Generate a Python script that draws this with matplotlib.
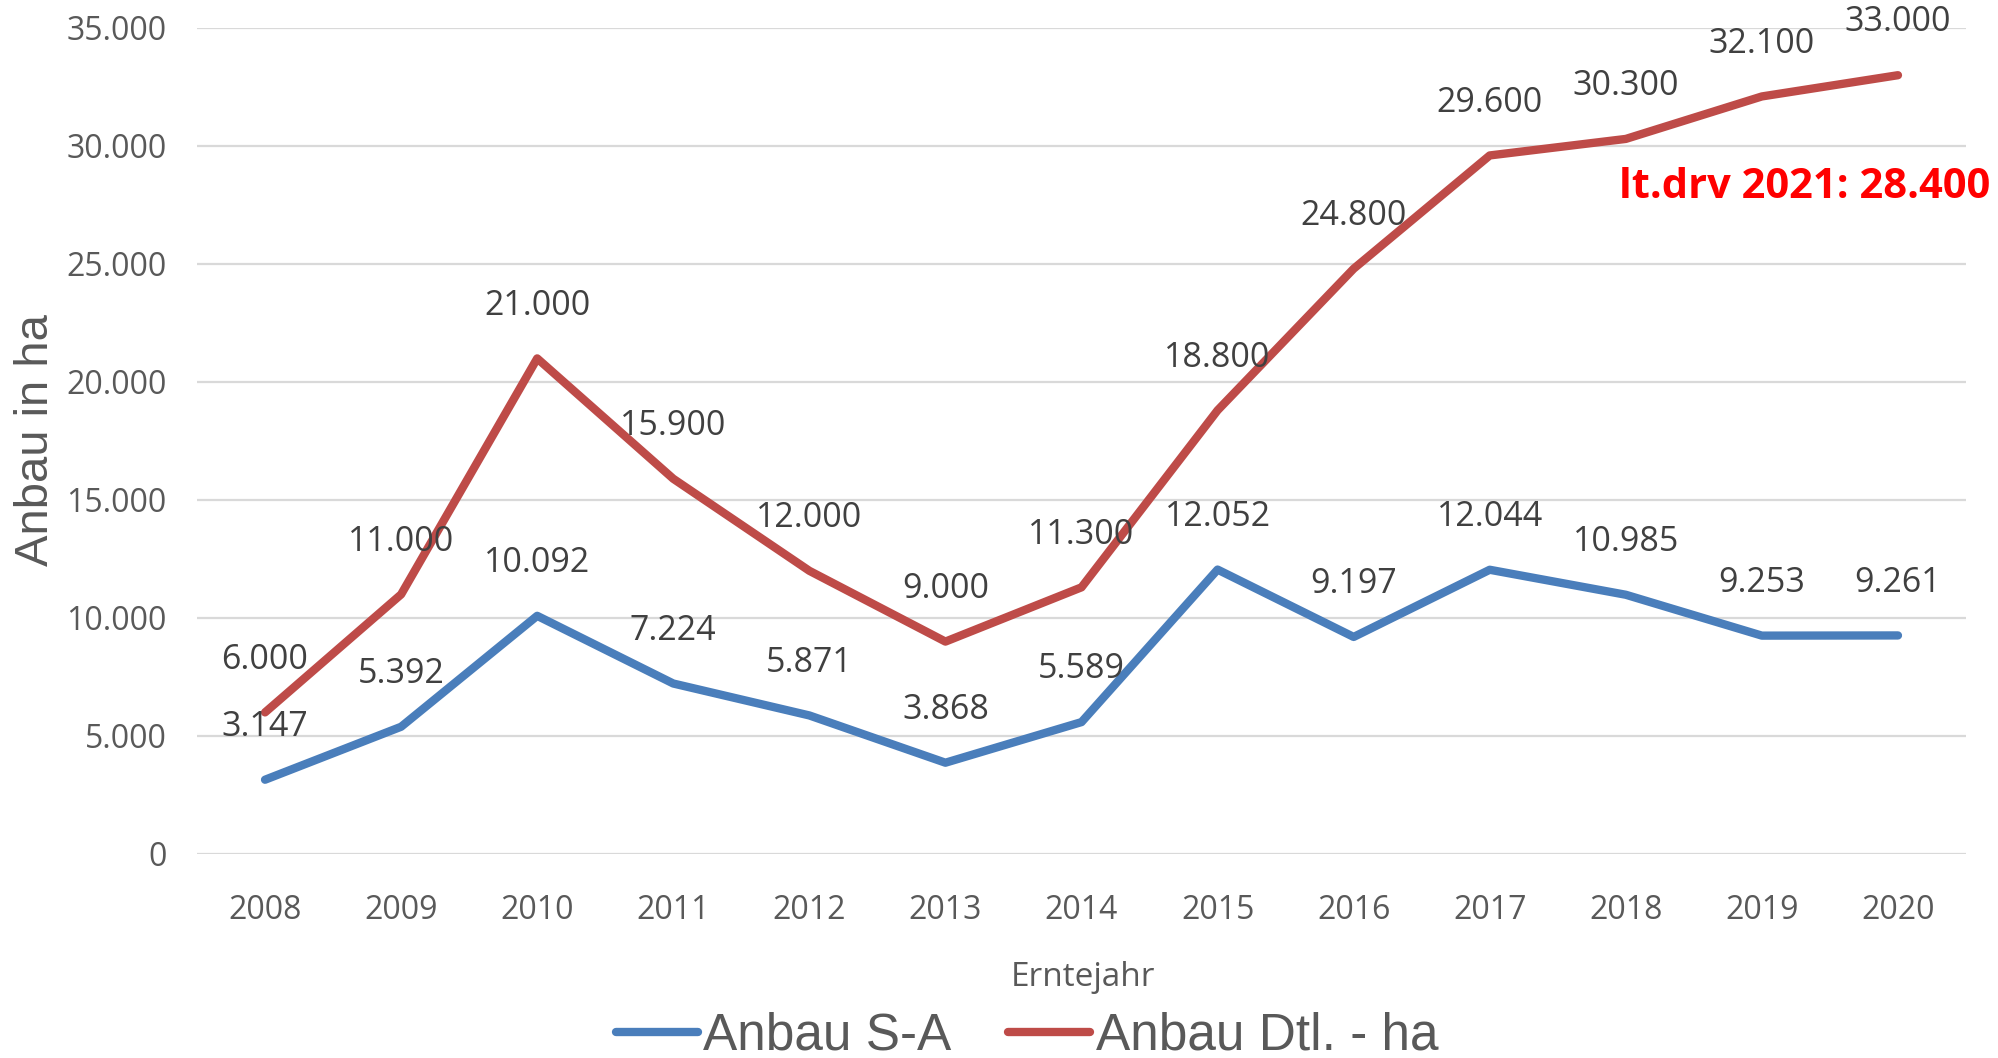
import matplotlib
matplotlib.use("Agg")
import matplotlib.pyplot as plt
from matplotlib.ticker import FuncFormatter

years = ["2008", "2009", "2010", "2011", "2012", "2013", "2014",
         "2015", "2016", "2017", "2018", "2019", "2020"]
anbau_sa = [3147, 5392, 10092, 7224, 5871, 3868, 5589,
            12052, 9197, 12044, 10985, 9253, 9261]
anbau_dtl = [6000, 11000, 21000, 15900, 12000, 9000, 11300,
             18800, 24800, 29600, 30300, 32100, 33000]
series_names = ["Anbau S-A", "Anbau Dtl. - ha"]
note_text = "lt.drv 2021: 28.400"

def de_fmt(v):
    return f"{int(round(v)):,}".replace(",", ".")

W, H = 1998, 1058
fig = plt.figure(figsize=(W / 100, H / 100), dpi=100)
ax = fig.add_axes([197 / W, 1 - 854 / H, (1966 - 197) / W, (854 - 28) / H])

x = list(range(len(years)))
blue = "#4A7EBB"
red = "#BE4B48"
l1, = ax.plot(x, anbau_sa, color=blue, lw=6, solid_capstyle="round",
              solid_joinstyle="round", zorder=3)
l2, = ax.plot(x, anbau_dtl, color=red, lw=6, solid_capstyle="round",
              solid_joinstyle="round", zorder=3)

lab_font = "Open Sans"
for xi, v in zip(x, anbau_sa):
    ax.annotate(de_fmt(v), (xi, v), xytext=(0, 38), textcoords="offset points",
                ha="center", va="center", fontsize=24.5, color="#404040",
                family=lab_font, zorder=5)
for xi, v in zip(x, anbau_dtl):
    ax.annotate(de_fmt(v), (xi, v), xytext=(0, 38), textcoords="offset points",
                ha="center", va="center", fontsize=24.5, color="#404040",
                family=lab_font, zorder=5)

ax.set_xlim(-0.5, len(years) - 0.5)
ax.set_ylim(0, 35000)
ax.set_yticks(range(0, 35001, 5000))
ax.yaxis.set_major_formatter(FuncFormatter(lambda v, p: de_fmt(v)))
ax.set_xticks(x)
ax.set_xticklabels(years)
ax.grid(axis="y", color="#D9D9D9", lw=1.6)
ax.set_axisbelow(True)
for s in ax.spines.values():
    s.set_visible(False)
ax.tick_params(axis="both", length=0, labelsize=23, labelcolor="#595959")
ax.tick_params(axis="y", pad=22)
ax.tick_params(axis="x", pad=29)
for t in ax.get_xticklabels() + ax.get_yticklabels():
    t.set_family(lab_font)

fig.text(1083 / W, 1 - 977 / H, "Erntejahr", ha="center", va="center",
         fontsize=24, color="#595959", family=lab_font)
fig.text(36 / W, 1 - 440 / H, "Anbau in ha", ha="center", va="center",
         rotation=90, fontsize=34, color="#595959", family="Liberation Sans")

fig.text(1990 / W, 1 - 188 / H, note_text, ha="right", va="center",
         fontsize=30, color="#FF0000", fontweight="bold", family="Open Sans")

leg = fig.legend([l1, l2], series_names, loc="center", bbox_to_anchor=(1027 / W, 1 - 1036 / H),
                 ncol=2, frameon=False, handlelength=1.6, handletextpad=0.1,
                 columnspacing=1.1, borderpad=0.2,
                 prop={"family": "Liberation Sans", "size": 37})
for t in leg.get_texts():
    t.set_color("#595959")

fig.savefig("out.png", dpi=100)
